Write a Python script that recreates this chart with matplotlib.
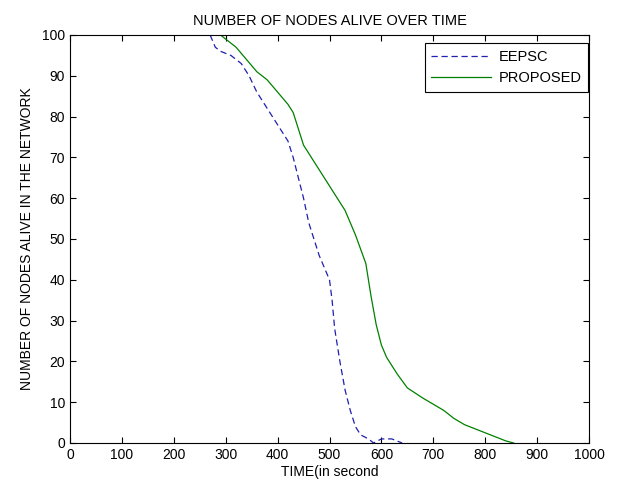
import matplotlib.pyplot as plt

plt.rcParams['font.family'] = ['Liberation Sans', 'DejaVu Sans']

# EEPSC (dashed)
eepsc_t = [270, 280, 290, 310, 330, 345, 360, 380, 400, 420, 430, 440, 450, 460,
           470, 480, 490, 500, 505, 510, 520, 530, 540, 550, 560, 575, 585, 600,
           620, 640]
eepsc_n = [100, 97, 96, 95, 93, 90, 86, 82, 78, 74, 70, 65, 60, 54,
           50, 46, 43, 40, 35, 28, 20, 13, 8, 4, 2, 1, 0, 1,
           1, 0]

# PROPOSED (solid)
prop_t = [290, 300, 320, 340, 360, 380, 400, 420, 430, 440, 450, 470, 490, 510,
          530, 550, 570, 580, 590, 600, 610, 630, 650, 680, 700, 720, 740, 760,
          780, 800, 820, 840, 855]
prop_n = [100, 99, 97, 94, 91, 89, 86, 83, 81, 77, 73, 69, 65, 61,
          57, 51, 44, 36, 29, 24, 21, 17, 13.5, 11, 9.5, 8, 6, 4.5,
          3.5, 2.5, 1.5, 0.5, 0]

fig = plt.figure(figsize=(6.18, 4.87), dpi=100)
ax = fig.add_axes([70/618, 1 - 443/487, (589-70)/618, (443-35)/487])

ax.plot(eepsc_t, eepsc_n, '--', color='#1f1fb0', lw=0.9, dashes=(5, 3), label='EEPSC')
ax.plot(prop_t, prop_n, '-', color='#008000', lw=0.9, label='PROPOSED')

ax.set_xlim(0, 1000)
ax.set_ylim(0, 100)
ax.set_xticks(range(0, 1001, 100))
ax.set_yticks(range(0, 101, 10))
ax.tick_params(direction='in', top=True, right=True, length=4, labelsize=10)
for s in ax.spines.values():
    s.set_linewidth(0.8)

ax.set_title('NUMBER OF NODES ALIVE OVER TIME', fontsize=10.5, pad=7)
ax.set_xlabel('TIME(in second', fontsize=10, labelpad=2)
ax.set_ylabel('NUMBER OF NODES ALIVE IN THE NETWORK', fontsize=10, labelpad=6)

leg = ax.legend(loc='upper right', bbox_to_anchor=(0.998, 0.98), borderaxespad=0,
                fontsize=10.5, fancybox=False, framealpha=1, edgecolor='black',
                handlelength=4.1, handletextpad=0.5, borderpad=0.45,
                labelspacing=0.5)
leg.get_frame().set_linewidth(0.8)

fig.savefig('out.png', dpi=100)
